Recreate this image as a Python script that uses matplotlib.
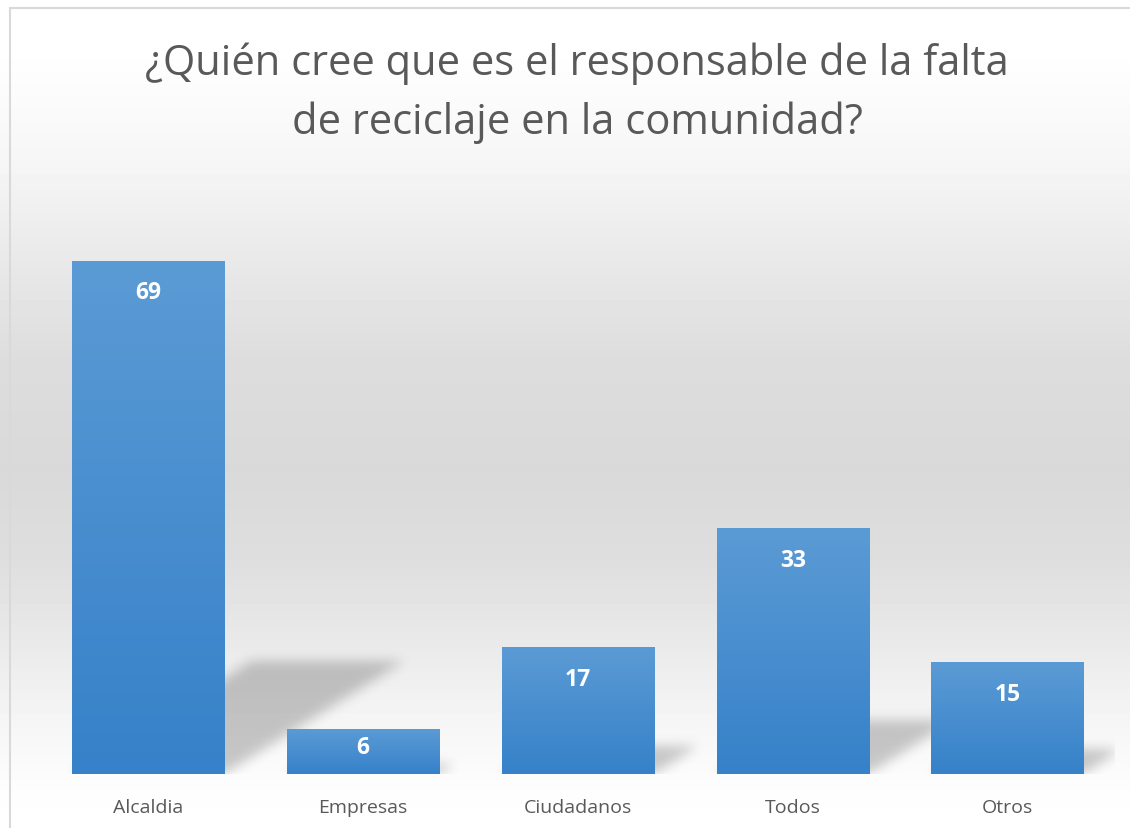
import numpy as np
import matplotlib
matplotlib.use("Agg")
import matplotlib.pyplot as plt
from matplotlib.patches import Rectangle
from matplotlib.colors import to_rgb

categories = ["Alcaldia", "Empresas", "Ciudadanos", "Todos", "Otros"]
values = [69, 6, 17, 33, 15]
title = "¿Quién cree que es el responsable de la falta\nde reciclaje en la comunidad?"

W, H = 1130, 829
fig = plt.figure(figsize=(W / 100, H / 100), dpi=100)

# background gradient (figure-level)
bg_ax = fig.add_axes([0, 0, 1, 1], zorder=0)
bg_ax.set_axis_off()
stops_px = [0, 60, 160, 260, 360, 470, 560, 640, 720, 790, 829]
stops_val = [255, 254, 246, 233, 221, 217, 222, 233, 245, 253, 255]
ypix = np.arange(H)
grad = np.interp(ypix, stops_px, stops_val) / 255.0
bg_img = np.repeat(grad[:, None], 2, axis=1)
bg_ax.imshow(bg_img, cmap="gray", vmin=0, vmax=1, aspect="auto",
             extent=[0, 1, 0, 1], origin="upper")
bg_ax.set_xlim(0, 1)
bg_ax.set_ylim(0, 1)
# chart border
bg_ax.add_patch(Rectangle((10 / W, -0.05), 1.2, 1 - 9 / H + 0.05, fill=False,
                          edgecolor="#d9d9d9", linewidth=1.5))

fig.text(577 / W, 1 - 93 / H, title, ha="center", va="center", fontsize=30,
         color="#595959", family=["Open Sans", "DejaVu Sans"],
         linespacing=1.5)

left_px, right_px, base_px = 41, 1115, 775
ymax = 80
px_per_unit = 7.43
top_px = base_px - ymax * px_per_unit
ax = fig.add_axes([left_px / W, 1 - base_px / H, (right_px - left_px) / W,
                   (base_px - top_px) / H], zorder=1)
ax.patch.set_alpha(0)
x = np.arange(len(categories))
ax.set_xlim(-0.5, len(categories) - 0.5)
ax.set_ylim(0, ymax)
bars = ax.bar(x, values, width=0.71, color="none", edgecolor="none", zorder=3)

# shadows
nx, ny = int(right_px - left_px), int(base_px - top_px)
gx = np.linspace(-0.5, len(categories) - 0.5, nx)
gy = np.linspace(0, ymax, ny)
GX, GY = np.meshgrid(gx, gy)
mask = np.zeros_like(GX)
xpx_per_unit = (right_px - left_px) / len(categories)
for b in bars:
    x0, w, h = b.get_x(), b.get_width(), b.get_height()
    h_px = h * px_per_unit
    dy = 0.22 * h
    dx = 0.35 * h_px / xpx_per_unit
    t = np.clip(GY / dy, 0, None)
    inside = (GY <= dy) & (GX >= x0 + t * dx) & (GX <= x0 + w + t * dx)
    mask = np.maximum(mask, inside.astype(float))

def blur(a, s):
    r = int(3 * s)
    k = np.exp(-0.5 * (np.arange(-r, r + 1) / s) ** 2)
    k /= k.sum()
    a = np.apply_along_axis(lambda m: np.convolve(m, k, mode="same"), 0, a)
    a = np.apply_along_axis(lambda m: np.convolve(m, k, mode="same"), 1, a)
    return a

mask = blur(mask, 6)
shadow = np.zeros((ny, nx, 4))
shadow[..., 3] = 0.21 * mask
ax.imshow(shadow, extent=[-0.5, len(categories) - 0.5, 0, ymax], origin="lower",
          aspect="auto", zorder=2, interpolation="nearest")

# gradient bars
c_top = np.array(to_rgb("#5b9bd5"))
c_bot = np.array(to_rgb("#3681c9"))
for b, v in zip(bars, values):
    x0, w, h = b.get_x(), b.get_width(), b.get_height()
    t = np.linspace(0, 1, 256)[:, None]
    img = (c_bot[None, :] * (1 - t) + c_top[None, :] * t)[:, None, :]
    img = np.repeat(img, 2, axis=1)
    ax.imshow(img, extent=[x0, x0 + w, 0, h], origin="lower", aspect="auto",
              zorder=4, interpolation="bilinear")
    off = min(31, 0.4 * h * px_per_unit)
    ax.annotate(str(v), (x0 + w / 2, h), xytext=(0, -off), textcoords="offset pixels",
                ha="center", va="center", color="white", fontsize=16.5,
                fontweight="bold", family=["Open Sans", "DejaVu Sans"], zorder=5)

ax.set_xlim(-0.5, len(categories) - 0.5)
ax.set_ylim(0, ymax)
ax.set_xticks(x)
ax.set_xticklabels(categories, fontsize=14, color="#595959",
                   family=["Open Sans", "DejaVu Sans"])
ax.tick_params(axis="x", length=0, pad=17)
ax.set_yticks([])
for s in ax.spines.values():
    s.set_visible(False)

fig.savefig("out.png", dpi=100)
